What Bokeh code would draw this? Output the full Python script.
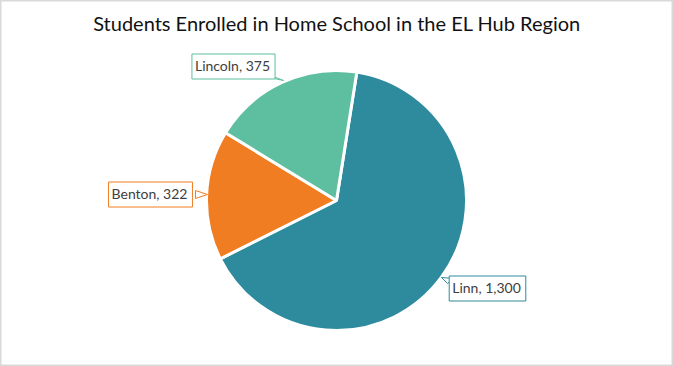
import numpy as np
from bokeh.plotting import figure
from bokeh.models import Range1d, Label, ColumnDataSource
from bokeh.embed import file_html
from bokeh.resources import INLINE

# ---- data ----
categories = ["Linn", "Benton", "Lincoln"]
values = [1300, 322, 375]
colors = ["#2E8B9E", "#F07D22", "#5DBFA0"]
title_text = "Students Enrolled in Home School in the EL Hub Region"

W, H = 673, 366
FONT = "Lato"

p = figure(width=W, height=H, x_range=Range1d(0, W), y_range=Range1d(0, H),
           output_backend="svg", toolbar_location=None, min_border=0)
p.axis.visible = False
p.grid.visible = False
p.outline_line_color = "#d9d9d9"
p.outline_line_width = 2
p.background_fill_color = "white"
p.border_fill_color = "white"

# pie geometry (layout)
cx, cy, r = 336, H - 200, 130
first_angle = np.deg2rad(81)

vals = np.array(values, dtype=float)
frac = vals / vals.sum()
ends = first_angle - 2 * np.pi * np.cumsum(frac)
starts = ends + 2 * np.pi * frac

src = ColumnDataSource(dict(cat=categories, val=values, a0=ends, a1=starts, color=colors))
p.wedge(x=cx, y=cy, radius=r, start_angle="a0", end_angle="a1", direction="anticlock",
        fill_color="color", line_color="white", line_width=3, source=src)

# callout label positions (layout): center of box, tail points
callouts = {
    "Lincoln": dict(x=233, y=66, tail=[(260, 75), (270, 75), (283, 80)]),
    "Benton": dict(x=150, y=194, tail=[(195, 190), (195, 198), (207, 194)]),
    "Linn": dict(x=487, y=288, tail=[(447, 283), (453, 278), (441, 277)]),
}

for cat, val, col in zip(categories, values, colors):
    c = callouts[cat]
    xs = [pt[0] for pt in c["tail"]]
    ys = [H - pt[1] for pt in c["tail"]]
    p.patch(xs, ys, fill_color="white", line_color=col, line_width=1)
    p.add_layout(Label(x=c["x"], y=H - c["y"], text=f"{cat}, {val:,}",
                       text_align="center", text_baseline="middle",
                       text_font=FONT, text_font_size="14px", text_color="#404040",
                       background_fill_color="white", border_line_color=col,
                       border_line_width=1, padding=(3, 5, 3, 5)))

p.add_layout(Label(x=W / 2, y=H - 22, text=title_text, text_align="center",
                   text_baseline="middle", text_font=FONT, text_font_size="20px",
                   text_color="#111111"))

open("out.html", "w").write(file_html(p, INLINE))
